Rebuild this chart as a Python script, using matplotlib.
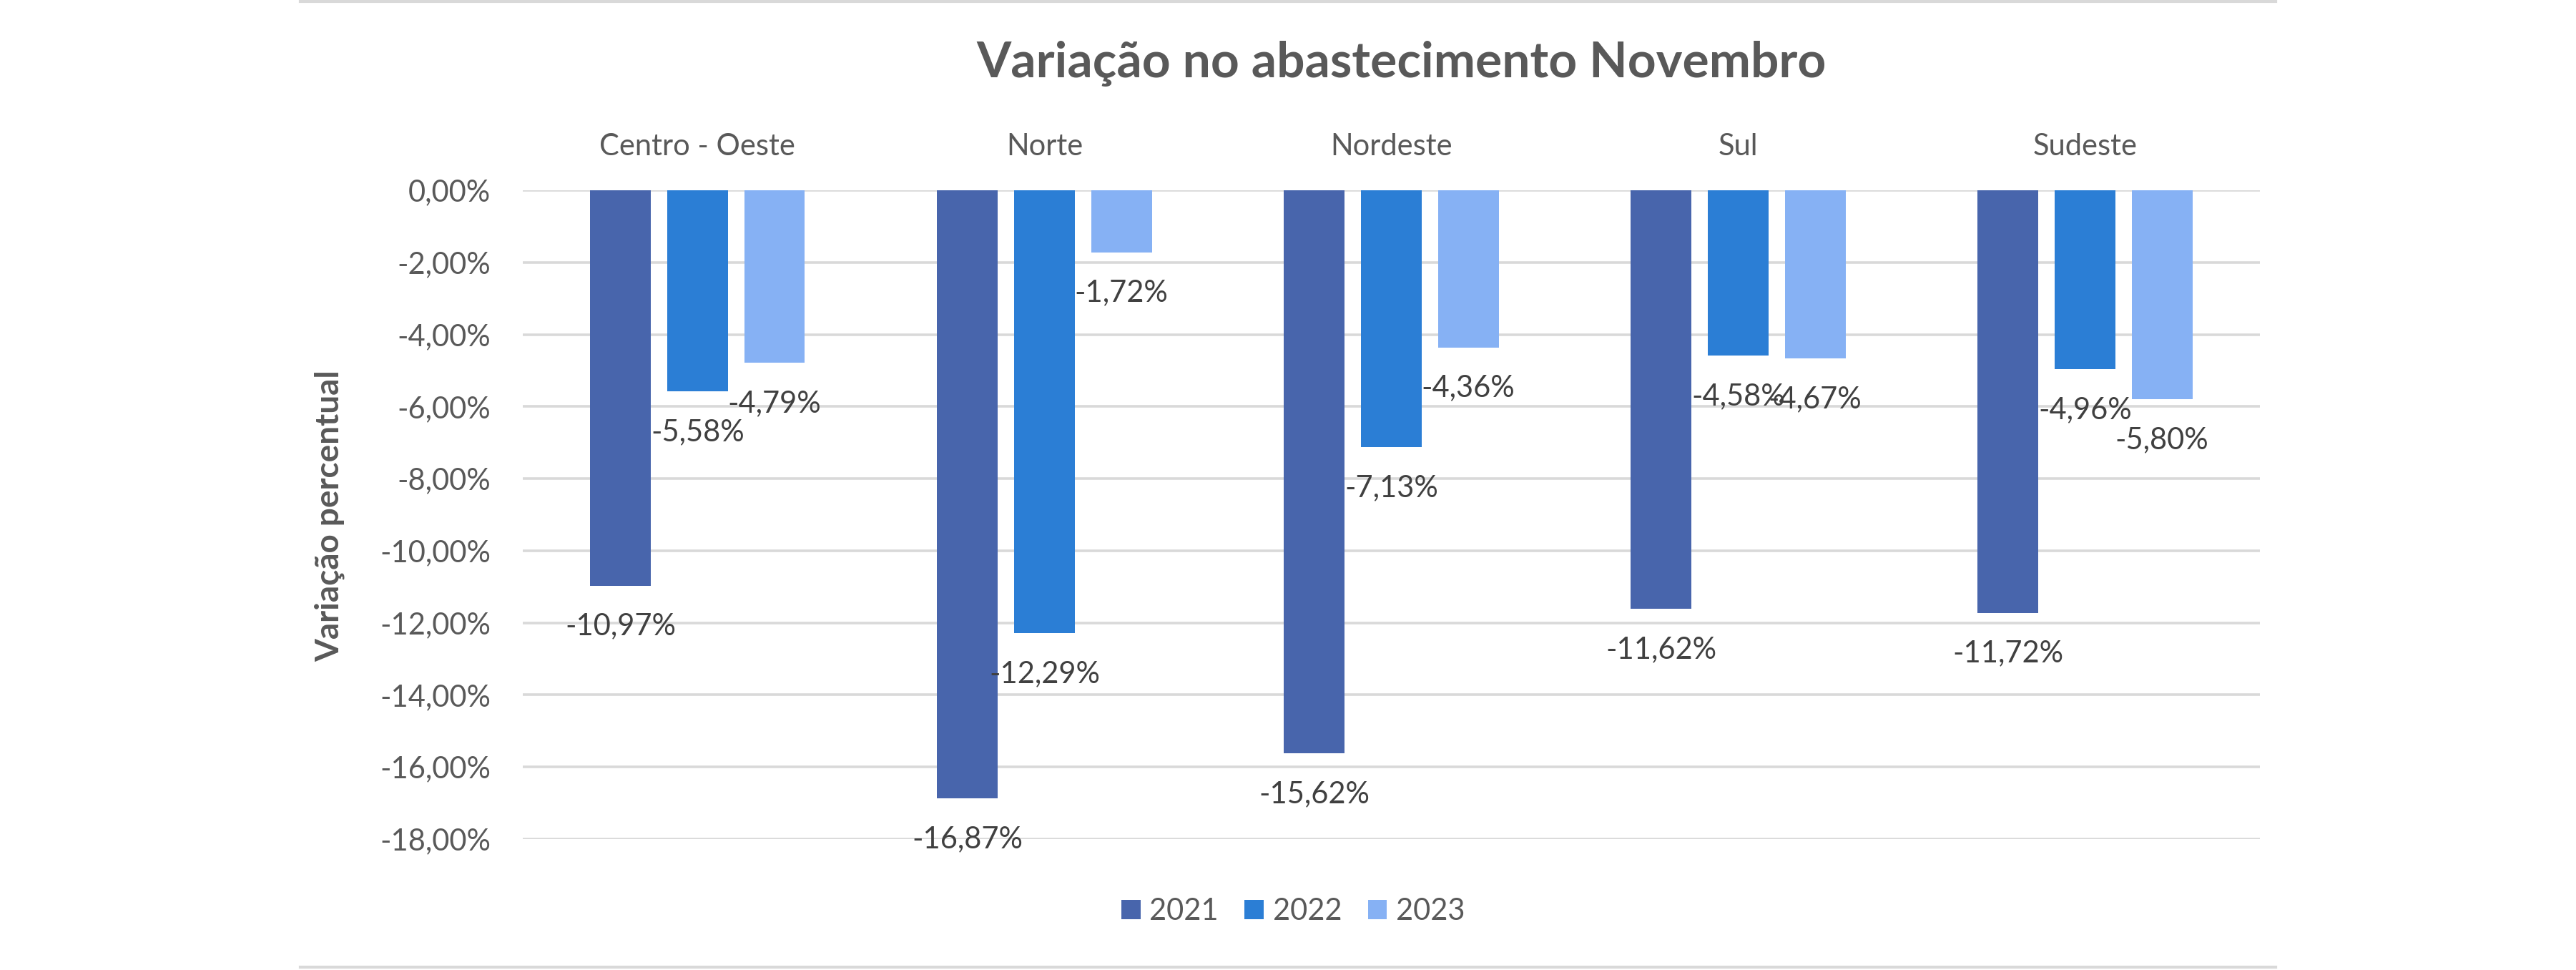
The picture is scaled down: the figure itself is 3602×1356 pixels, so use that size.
import matplotlib
matplotlib.use("Agg")
import matplotlib.pyplot as plt
from matplotlib.lines import Line2D
from matplotlib.ticker import FuncFormatter
import numpy as np

plt.rcParams['font.family'] = ['Lato', 'DejaVu Sans']

regioes = ["Centro - Oeste", "Norte", "Nordeste", "Sul", "Sudeste"]
anos = ["2021", "2022", "2023"]
var_2021 = [-10.97, -16.87, -15.62, -11.62, -11.72]
var_2022 = [-5.58, -12.29, -7.13, -4.58, -4.96]
var_2023 = [-4.79, -1.72, -4.36, -4.67, -5.80]
cores = ["#4865AC", "#2B7ED5", "#86B1F4"]
y_ticks = [0, -2, -4, -6, -8, -10, -12, -14, -16, -18]

cinza_txt = "#595959"
cinza_grid = "#D9D9D9"

fig = plt.figure(figsize=(18.01, 6.78), dpi=200)
ax = fig.add_axes([0.2029, 0.1350, 0.6744, 0.6688])

x = np.arange(len(regioes))
largura = 0.175
passo = 0.222
series = [var_2021, var_2022, var_2023]

for i, (serie, ano) in enumerate(zip(series, anos)):
    barras = ax.bar(x + (i - 1) * passo, serie, largura, color=cores[i], label=ano, zorder=2)
    for b, v in zip(barras, serie):
        ax.annotate(f"{v:.2f}%".replace(".", ","),
                    (b.get_x() + b.get_width() / 2, v),
                    xytext=(0, -20.5), textcoords="offset points",
                    ha="center", va="center", fontsize=15, color="#404040", zorder=3)

ax.set_xlim(-0.504, 4.504)
ax.set_ylim(-18, 0)
ax.set_yticks(y_ticks)
ax.yaxis.set_major_formatter(FuncFormatter(lambda v, p: f"{v:.2f}%".replace(".", ",").replace("-0,00", "0,00")))
ax.set_xticks(x)
ax.set_xticklabels(regioes)
ax.xaxis.tick_top()
ax.tick_params(axis="x", length=0, pad=15, labelsize=15, labelcolor=cinza_txt)
ax.tick_params(axis="y", length=0, pad=16, labelsize=15, labelcolor=cinza_txt)
ax.yaxis.grid(True, color=cinza_grid, linewidth=1.3)
ax.set_axisbelow(True)
for s in ax.spines.values():
    s.set_visible(False)

fig.text(0.5441, 1 - 108 / 1356, "Variação no abastecimento Novembro",
         ha="center", va="baseline", fontsize=25, fontweight="bold", color=cinza_txt)
fig.text(0.128, 1 - 721 / 1356, "Variação percentual", rotation=90,
         ha="center", va="center", fontsize=16.5, fontweight="bold", color=cinza_txt)

leg = fig.legend(loc="center", bbox_to_anchor=(0.502, 1 - 1274 / 1356), ncol=3, frameon=False,
                 fontsize=15, handlelength=0.64, handleheight=0.64, handletextpad=0.3,
                 columnspacing=0.88)
for t in leg.get_texts():
    t.set_color(cinza_txt)

# bordas do gráfico (linhas superior e inferior)
for yy in [1 - 2 / 1356, 1 - 1352 / 1356]:
    fig.add_artist(Line2D([420 / 3602, 3182 / 3602], [yy, yy], color=cinza_grid, linewidth=1.5))

fig.savefig("out.png", dpi=200)
